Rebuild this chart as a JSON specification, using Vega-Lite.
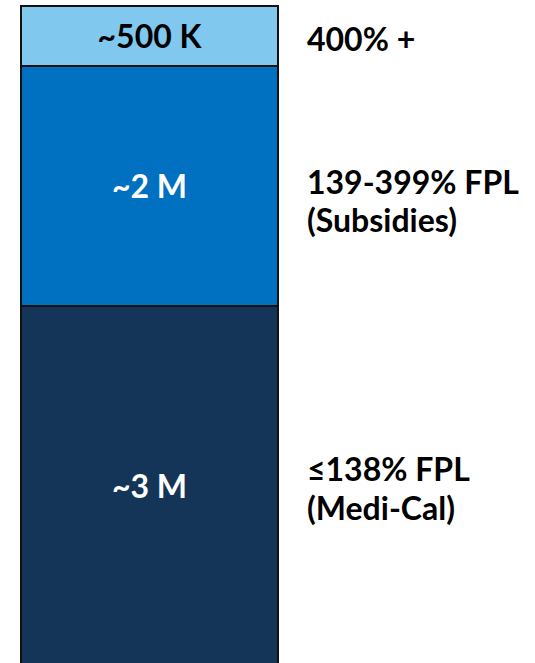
{
  "$schema": "https://vega.github.io/schema/vega-lite/v6.json",
  "width": 514,
  "height": 660,
  "autosize": "none",
  "padding": {"top": 6, "left": 21, "right": 0, "bottom": 0},
  "background": "white",
  "config": {"view": {"stroke": null}},
  "data": {"values": [
    {"group": "Medi-Cal", "order": 1, "value": 3.0, "amount": "~3 M", "desc": ["≤138% FPL", "(Medi-Cal)"], "dark": true},
    {"group": "Subsidies", "order": 2, "value": 2.0, "amount": "~2 M", "desc": ["139-399% FPL", "(Subsidies)"], "dark": true},
    {"group": "400% +", "order": 3, "value": 0.5, "amount": "~500 K", "desc": ["400% +"], "dark": false}
  ]},
  "transform": [
    {"stack": "value", "groupby": [], "sort": [{"field": "order", "order": "ascending"}], "as": ["y0", "y1"]},
    {"calculate": "(datum.y0 + datum.y1) / 2", "as": "mid"}
  ],
  "layer": [
    {
      "mark": {"type": "bar", "stroke": "#111111", "strokeWidth": 2},
      "encoding": {
        "x": {"datum": "bar", "type": "nominal", "scale": {"domain": ["bar", "label"], "paddingInner": 0, "paddingOuter": 0}, "axis": null},
        "y": {"field": "y0", "type": "quantitative", "scale": {"domain": [0, 5.5], "nice": false, "zero": true}, "axis": null},
        "y2": {"field": "y1"},
        "color": {"field": "group", "type": "nominal", "scale": {"domain": ["Medi-Cal", "Subsidies", "400% +"], "range": ["#143558", "#0070C0", "#80C8EE"]}, "legend": null}
      }
    },
    {
      "mark": {"type": "text", "font": "Lato", "fontWeight": "bold", "fontSize": 32, "align": "center", "baseline": "middle", "dy": 2},
      "encoding": {
        "x": {"datum": "bar", "type": "nominal"},
        "y": {"field": "mid", "type": "quantitative"},
        "text": {"field": "amount"},
        "color": {"condition": {"test": "datum.dark", "value": "white"}, "value": "black"}
      }
    },
    {
      "transform": [{"filter": "datum.group === '400% +'"}],
      "mark": {"type": "text", "font": "Lato", "fontWeight": "bold", "fontSize": 32, "align": "left", "baseline": "middle", "lineHeight": 38, "dx": 29, "dy": 5, "color": "black"},
      "encoding": {
        "x": {"datum": "label", "type": "nominal", "bandPosition": 0},
        "y": {"field": "mid", "type": "quantitative"},
        "text": {"field": "desc"}
      }
    },
    {
      "transform": [{"filter": "datum.group === 'Subsidies'"}],
      "mark": {"type": "text", "font": "Lato", "fontWeight": "bold", "fontSize": 32, "align": "left", "baseline": "middle", "lineHeight": 38, "dx": 29, "dy": -2, "color": "black"},
      "encoding": {
        "x": {"datum": "label", "type": "nominal", "bandPosition": 0},
        "y": {"field": "mid", "type": "quantitative"},
        "text": {"field": "desc"}
      }
    },
    {
      "transform": [{"filter": "datum.group === 'Medi-Cal'"}],
      "mark": {"type": "text", "font": "Lato", "fontWeight": "bold", "fontSize": 32, "align": "left", "baseline": "middle", "lineHeight": 39, "dx": 29, "dy": -15, "color": "black"},
      "encoding": {
        "x": {"datum": "label", "type": "nominal", "bandPosition": 0},
        "y": {"field": "mid", "type": "quantitative"},
        "text": {"field": "desc"}
      }
    }
  ]
}
